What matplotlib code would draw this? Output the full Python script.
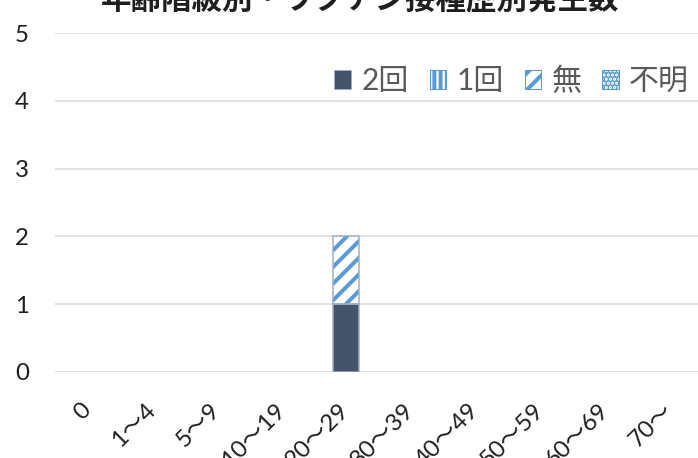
import numpy as np
import matplotlib
matplotlib.use("Agg")
import matplotlib.pyplot as plt
from matplotlib.patches import Patch

DPI = 150
W, H = 698, 458


def pt(px):
    # pixel size -> points at the chosen dpi
    return px * 72 / DPI


# ── data ───────────────────────────────────────────────────────────────────
ages = ["0", "1～4", "5～9", "10～19", "20～29",
        "30～39", "40～49", "50～59", "60～69", "70～"]
dose2   = [0, 0, 0, 0, 1, 0, 0, 0, 0, 0]
dose1   = [0, 0, 0, 0, 0, 0, 0, 0, 0, 0]
none_   = [0, 0, 0, 0, 1, 0, 0, 0, 0, 0]
unknown = [0, 0, 0, 0, 0, 0, 0, 0, 0, 0]
series_names = ["2回", "1回", "無", "不明"]
title = "年齢階級別・ワクチン接種歴別発生数"
yticks = [0, 1, 2, 3, 4, 5]

# ── style ──────────────────────────────────────────────────────────────────
plt.rcParams.update({
    "font.family": ["Lato", "Noto Sans CJK JP", "DejaVu Sans"],
    "hatch.linewidth": pt(4.0),
})
NAVY = "#44546A"
BLUE = "#5B9BD5"
EDGE = "#9FAEC6"
GRID = "#D9D9D9"
TXT = "#1f1f1f"
LEG_TXT = "#595959"

fig = plt.figure(figsize=(W / DPI, H / DPI), dpi=DPI)
ax = fig.add_axes([55 / W, 1 - 372 / H, 647 / W, 339 / H])

x = np.arange(len(ages))
bw = 0.40

styles = [
    dict(facecolor=NAVY, hatch=None, hcolor=None),
    dict(facecolor="white", hatch="||||", hcolor=BLUE),
    dict(facecolor="white", hatch="///", hcolor=BLUE),
    dict(facecolor="white", hatch="......", hcolor=BLUE),
]

bottom = np.zeros(len(ages))
for vals, st in zip([dose2, dose1, none_, unknown], styles):
    vals = np.asarray(vals, dtype=float)
    shown = vals > 0
    fc = [st["facecolor"] if s else "none" for s in shown]
    if st["hatch"]:
        hc = [st["hcolor"] if s else "none" for s in shown]
        ax.bar(x, vals, bw, bottom=bottom, color=fc, edgecolor=hc,
               hatch=st["hatch"], linewidth=0, zorder=3)
    else:
        ax.bar(x, vals, bw, bottom=bottom, color=fc, linewidth=0, zorder=3)
    ec = [EDGE if s else "none" for s in shown]
    ax.bar(x, vals, bw, bottom=bottom, fill=False, edgecolor=ec,
           linewidth=pt(1.5), zorder=4)
    bottom += vals

ax.set_xlim(-0.5, len(ages) - 0.5)
ax.set_ylim(0, 5)
ax.set_yticks(yticks)
ax.grid(axis="y", color=GRID, linewidth=pt(1.5), zorder=0)
for s in ax.spines.values():
    s.set_visible(False)
ax.tick_params(axis="both", length=0, colors=TXT)
ax.tick_params(axis="y", pad=pt(26), labelsize=pt(24))
ax.set_xticks(x)
ax.set_xticklabels(ages, rotation=45, ha="right", va="center",
                   rotation_mode="anchor", fontsize=pt(24))
ax.tick_params(axis="x", pad=pt(35))

# legend
handles = []
for name, st in zip(series_names, styles):
    if st["hatch"]:
        handles.append(Patch(facecolor="white", edgecolor=st["hcolor"],
                             hatch=st["hatch"], linewidth=pt(1), label=name))
    else:
        handles.append(Patch(facecolor=st["facecolor"], edgecolor=EDGE,
                             linewidth=pt(1), label=name))
leg = fig.legend(handles=handles, loc="center right", ncol=4,
                 bbox_to_anchor=(689 / W, 1 - 81 / H), frameon=False,
                 fontsize=pt(30), handlelength=0.56, handleheight=0.56,
                 handletextpad=0.33, columnspacing=0.7,
                 borderpad=0, borderaxespad=0)
for t in leg.get_texts():
    t.set_color(LEG_TXT)

fig.text(360 / W, 1 - 9 / H, title, ha="center", va="baseline",
         fontsize=pt(30.5), fontweight="bold", color=TXT)

fig.savefig("out.png", dpi=DPI)
